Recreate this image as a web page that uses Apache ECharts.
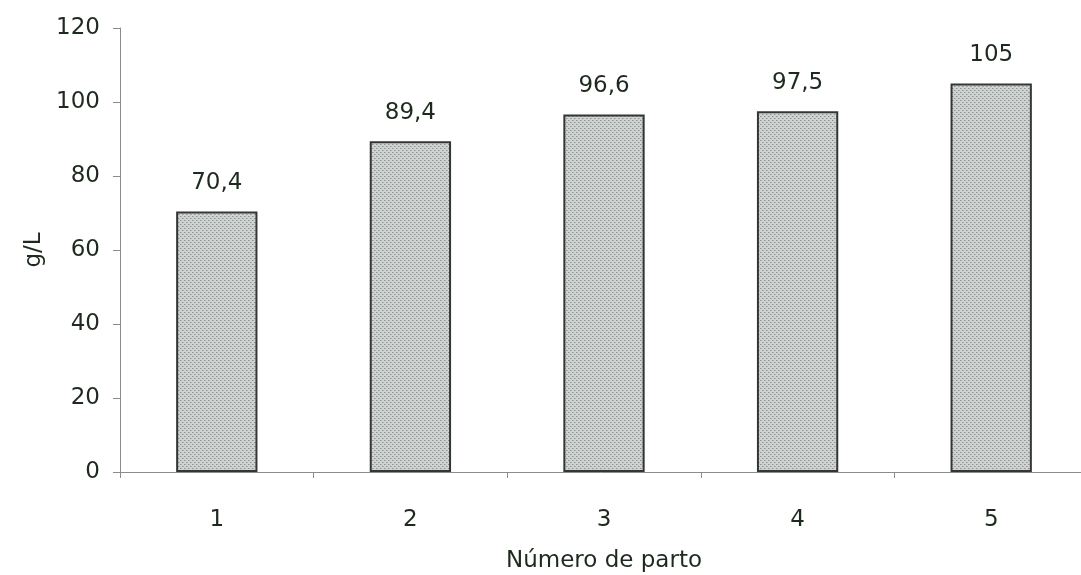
<!DOCTYPE html>
<html>
<head>
<meta charset="utf-8">
<script src="https://cdn.jsdelivr.net/npm/echarts@6/dist/echarts.min.js"></script>
<style>
  html, body { margin: 0; padding: 0; background: #fff; }
  #chart { width: 1081px; height: 575px; }
</style>
</head>
<body>
<div id="chart"></div>
<script>
// Number of calving vs. concentration (g/L)
const categories = ['1', '2', '3', '4', '5'];
const values = [70.4, 89.4, 96.6, 97.5, 105];
const yTicks = { min: 0, max: 120, interval: 20 };

// Dotted grey fill for the bars
function dotPattern() {
  const c = document.createElement('canvas');
  c.width = 4; c.height = 4;
  const g = c.getContext('2d');
  g.fillStyle = '#cfd4d2';
  g.fillRect(0, 0, 4, 4);
  g.fillStyle = '#8f9492';
  g.fillRect(0, 0, 1, 1);
  g.fillRect(2, 2, 1, 1);
  g.fillStyle = '#adb2b0';
  g.fillRect(1, 0, 1, 1);
  g.fillRect(3, 2, 1, 1);
  return c;
}

const textColor = '#1f2a1f';
const font = 'DejaVu Sans, Arial, sans-serif';
const fontSize = 23;

const chart = echarts.init(document.getElementById('chart'));
chart.setOption({
  animation: false,
  backgroundColor: '#ffffff',
  grid: { left: 120, top: 28, width: 968, height: 444, outerBoundsMode: 'none', containLabel: false },
  xAxis: {
    type: 'category',
    data: categories,
    name: 'Número de parto',
    nameLocation: 'middle',
    nameGap: 78,
    nameTextStyle: { color: textColor, fontSize: fontSize, fontFamily: font },
    axisLine: { lineStyle: { color: '#8c8c8c', width: 1 } },
    axisTick: { show: true, length: 6, lineStyle: { color: '#8c8c8c' } },
    axisLabel: { color: textColor, fontSize: fontSize, fontFamily: font, margin: 37 }
  },
  yAxis: {
    type: 'value',
    min: yTicks.min,
    max: yTicks.max,
    interval: yTicks.interval,
    name: 'g/L',
    nameLocation: 'middle',
    nameGap: 72,
    nameTextStyle: { color: textColor, fontSize: fontSize, fontFamily: font },
    axisLine: { show: true, lineStyle: { color: '#8c8c8c', width: 1 } },
    axisTick: { show: true, length: 7, lineStyle: { color: '#8c8c8c' } },
    axisLabel: { color: textColor, fontSize: fontSize, fontFamily: font, margin: 20 },
    splitLine: { show: false }
  },
  series: [{
    type: 'bar',
    data: values,
    barWidth: '42%',
    itemStyle: {
      color: { image: dotPattern(), repeat: 'repeat' },
      borderColor: '#333634',
      borderWidth: 2
    },
    label: {
      show: true,
      position: 'top',
      distance: 17,
      color: textColor,
      fontSize: fontSize,
      fontFamily: font,
      formatter: p => String(p.value).replace('.', ',')
    }
  }]
});
</script>
</body>
</html>
